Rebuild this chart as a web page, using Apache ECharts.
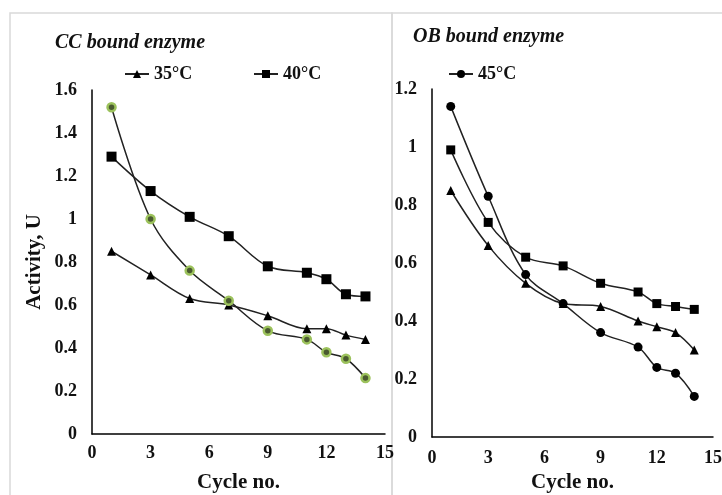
<!DOCTYPE html>
<html>
<head>
<meta charset="utf-8">
<script src="https://cdn.jsdelivr.net/npm/echarts@6/dist/echarts.min.js"></script>
<style>
  html, body { margin: 0; padding: 0; background: #fff; }
  #chart { width: 722px; height: 495px; }
</style>
</head>
<body>
<div id="chart"></div>
<script>
// cycle numbers (x) shared by every series
const cycles = [1, 3, 5, 7, 9, 11, 12, 13, 14];

// CC bound enzyme
const cc35 = [0.85, 0.74, 0.63, 0.60, 0.55, 0.49, 0.49, 0.46, 0.44];
const cc40 = [1.29, 1.13, 1.01, 0.92, 0.78, 0.75, 0.72, 0.65, 0.64];
const ccGreen = [1.52, 1.00, 0.76, 0.62, 0.48, 0.44, 0.38, 0.35, 0.26];

// OB bound enzyme
const ob35 = [0.85, 0.66, 0.53, 0.46, 0.45, 0.40, 0.38, 0.36, 0.30];
const ob40 = [0.99, 0.74, 0.62, 0.59, 0.53, 0.50, 0.46, 0.45, 0.44];
const ob45 = [1.14, 0.83, 0.56, 0.46, 0.36, 0.31, 0.24, 0.22, 0.14];

const leftTicks = [0, 0.2, 0.4, 0.6, 0.8, 1, 1.2, 1.4, 1.6];
const rightTicks = [0, 0.2, 0.4, 0.6, 0.8, 1, 1.2];

const font = "Liberation Serif";
const ink = "#111";

const pairs = arr => arr.map((v, i) => [cycles[i], v]);

const chart = echarts.init(document.getElementById("chart"));

const nameStyle = { fontFamily: font, fontWeight: "bold", fontSize: 21, color: ink };
const tickStyle = { fontFamily: font, fontWeight: "bold", fontSize: 18, color: ink };

const xAxisBase = {
  type: "value",
  min: 0,
  max: 15,
  interval: 3,
  name: "Cycle no.",
  nameLocation: "middle",
  nameTextStyle: nameStyle,
  axisLine: { lineStyle: { color: "#000", width: 1.5 } },
  axisTick: { show: false },
  splitLine: { show: false }
};

const yAxisBase = {
  type: "value",
  min: 0,
  interval: 0.2,
  axisLine: { show: true, lineStyle: { color: "#000", width: 1.5 } },
  axisTick: { show: false },
  splitLine: { show: false },
  axisLabel: Object.assign({}, tickStyle, {
    margin: 15,
    formatter: v => String(Math.round(v * 10) / 10)
  })
};

const lineBase = {
  type: "line",
  smooth: 0.35,
  lineStyle: { color: "#222", width: 1.5 },
  emphasis: { disabled: true }
};

const legendBase = { itemWidth: 24, itemHeight: 10, itemGap: 2, padding: 0, top: 65, textStyle: tickStyle };
const titleStyle = { fontFamily: font, fontStyle: "italic", fontWeight: "bold", fontSize: 20, color: ink };

const options = {
  animation: false,
  backgroundColor: "#fff",
  graphic: [
    {
      type: "rect",
      shape: { x: 10, y: 13, width: 382, height: 490 },
      style: { fill: "none", stroke: "#d9d9d9", lineWidth: 1.5 }
    },
    {
      type: "rect",
      shape: { x: 392, y: 13, width: 340, height: 490 },
      style: { fill: "none", stroke: "#d9d9d9", lineWidth: 1.5 }
    }
  ],
  title: [
    { text: "CC bound enzyme", left: 50, top: 28, textStyle: titleStyle },
    { text: "OB bound enzyme", left: 408, top: 22, textStyle: titleStyle }
  ],
  legend: [
    Object.assign({ data: ["35°C"], left: 124 }, legendBase),
    Object.assign({ data: ["40°C"], left: 253 }, legendBase),
    Object.assign({ data: ["45°C"], left: 448 }, legendBase)
  ],
  grid: [
    { left: 92, top: 90, width: 293, height: 344, outerBoundsMode: "none" },
    { left: 432, top: 89, width: 281, height: 348, outerBoundsMode: "none" }
  ],
  xAxis: [
    Object.assign({}, xAxisBase, { gridIndex: 0, nameGap: 38, axisLabel: Object.assign({}, tickStyle, { margin: 10 }) }),
    Object.assign({}, xAxisBase, { gridIndex: 1, nameGap: 35, axisLabel: Object.assign({}, tickStyle, { margin: 12 }) })
  ],
  yAxis: [
    Object.assign({}, yAxisBase, {
      gridIndex: 0,
      max: leftTicks[leftTicks.length - 1],
      name: "Activity, U",
      nameLocation: "middle",
      nameGap: 47,
      nameTextStyle: nameStyle
    }),
    Object.assign({}, yAxisBase, {
      gridIndex: 1,
      max: rightTicks[rightTicks.length - 1]
    })
  ],
  series: [
    Object.assign({}, lineBase, {
      name: "35°C",
      xAxisIndex: 0, yAxisIndex: 0,
      data: pairs(cc35),
      symbol: "triangle", symbolSize: 9,
      itemStyle: { color: "#000" }
    }),
    Object.assign({}, lineBase, {
      name: "40°C",
      xAxisIndex: 0, yAxisIndex: 0,
      data: pairs(cc40),
      symbol: "rect", symbolSize: 10,
      itemStyle: { color: "#000" }
    }),
    Object.assign({}, lineBase, {
      name: "CC green",
      xAxisIndex: 0, yAxisIndex: 0,
      data: pairs(ccGreen),
      symbol: "circle", symbolSize: 8,
      itemStyle: { color: "#4a5a30", borderColor: "#9cc25c", borderWidth: 2.5 }
    }),
    Object.assign({}, lineBase, {
      name: "OB 35°C",
      xAxisIndex: 1, yAxisIndex: 1,
      data: pairs(ob35),
      symbol: "triangle", symbolSize: 9,
      itemStyle: { color: "#000" }
    }),
    Object.assign({}, lineBase, {
      name: "OB 40°C",
      xAxisIndex: 1, yAxisIndex: 1,
      data: pairs(ob40),
      symbol: "rect", symbolSize: 9,
      itemStyle: { color: "#000" }
    }),
    Object.assign({}, lineBase, {
      name: "45°C",
      xAxisIndex: 1, yAxisIndex: 1,
      data: pairs(ob45),
      symbol: "circle", symbolSize: 9,
      itemStyle: { color: "#000" }
    })
  ]
};

chart.setOption(options);
</script>
</body>
</html>
